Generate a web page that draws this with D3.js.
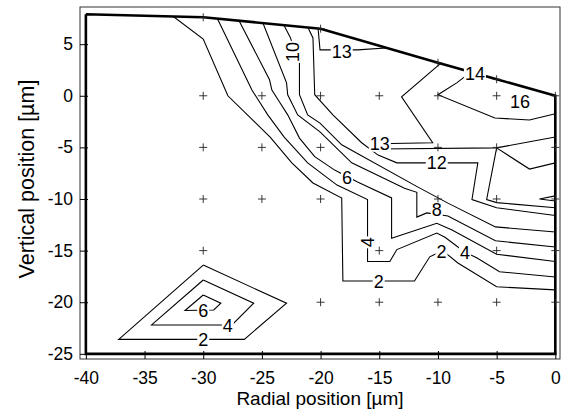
<!DOCTYPE html>
<html>
<head>
<meta charset="utf-8">
<script src="https://cdn.jsdelivr.net/npm/d3@7"></script>
<style>
  body { margin: 0; background: #fff; }
  text { font-family: Arial, "Liberation Sans", sans-serif; }
</style>
</head>
<body>
<div id="chart"></div>
<script>
// axis ticks
var xTicks = [-40, -35, -30, -25, -20, -15, -10, -5, 0];
var yTicks = [-25, -20, -15, -10, -5, 0, 5];

// domain outline (thick line)
var boundary = [[-40, 7.9], [-30, 7.6], [-20, 6.5], [-10, 3.2], [-5, 1.6], [0, 0], [0, -25], [-40, -25], [-40, 7.9]];

// measurement points ("+")
var points = [
  [-30, 7.6], [-20, 6.5], [-10, 3.2], [-5, 1.6],
  [-30, 0], [-25, 0], [-20, 0], [-15, 0], [-10, 0], [-5, 0], [0, 0],
  [-30, -5], [-25, -5], [-20, -5], [-15, -5], [-10, -5], [-5, -5], [0, -5],
  [-30, -10], [-25, -10], [-20, -10], [-10, -10], [-5, -10], [0, -10],
  [-30, -15], [-15, -15], [-5, -15], [0, -15],
  [-20, -20], [-15, -20], [-10, -20], [-5, -20], [0, -20]
];

// contour lines
var line2 = [[-32.8, 7.9], [-30, 5.5], [-27.9, 0], [-24.3, -4.0], [-22.45, -6.5], [-20.65, -8.45], [-18.2, -9.9], [-18.1, -17.95], [-12, -17.95], [-10.7, -15.6], [-9.6, -15.0], [-8.3, -16.2], [-5, -18.5], [0, -18.8]];
var line4 = [[-28.85, 7.6], [-25.85, 0.55], [-25.2, -0.6], [-24.5, -1.85], [-23.1, -4.0], [-21.1, -6.5], [-18.6, -8.65], [-16, -10.05], [-16, -16.05], [-14.1, -16.05], [-13.5, -14.9], [-10.1, -13.3], [-9.4, -13.7], [-7.7, -15.15], [-6.7, -15.7], [-4.75, -17.05], [0, -17.55]];
var line6 = [[-27, 7.4], [-24.35, 1.55], [-24.15, 0.55], [-23.5, -0.6], [-22.8, -1.85], [-21.8, -4.1], [-20.5, -5.9], [-18.8, -7.2], [-16.85, -8.35], [-13.95, -9.9], [-13.95, -13.8], [-10.1, -12.35], [-8.8, -13], [-5, -15.35], [0, -16.05]];
var line8 = [[-25, 7.3], [-22.9, 1.25], [-22.8, 0.1], [-21.95, -1.85], [-20.05, -3.5], [-17.35, -6.5], [-12.85, -8.95], [-11.8, -9.35], [-11.8, -11.75], [-10.95, -11.35], [-9.15, -11.65], [-5.1, -14.05], [0, -14.65]];
var line10 = [[-23.2, 7.0], [-22.6, 5.7], [-21.8, 3.2], [-21.8, 0.1], [-21.1, -1.85], [-20.05, -2.65], [-18.2, -4.75], [-11.7, -8.85], [-9.15, -10.4], [-5.1, -12.7], [0, -13.2]];
var line12 = [[-21.2, 6.9], [-20.65, 5.6], [-20.5, 0.1], [-18.95, -1.85], [-16.5, -4.55], [-15.1, -5.75], [-13.5, -6.5], [-6.6, -6.5], [-7.1, -10.05], [-5, -10.85], [0, -11.6]];
var line13top = [[-20.25, 7], [-20.05, 4.45], [-16.85, 4.45], [-13.5, 4.7]];
var line13a = [[-9.3, 3.6], [-13.1, -0.1], [-10.45, -4.55], [-15.1, -4.65], [-15.1, -5.15], [-5, -5.05], [0, -4.0]];
var line13b = [[-5, -5.05], [-2.2, -7.1], [0, -6.5]];
var line13c = [[-5, -5.05], [-5.85, -10.05], [-5, -10.35], [0, -10.85]];
var wedge = [[0, -9.7], [-1.35, -10.0], [0, -10.2]];
var line14 = [[0, -1.75], [-2.2, -2.35], [-5.15, -2.15], [-10, 0.1], [-8.4, 1.25], [-6.85, 2.6]];
var blob2 = [[-30, -16.4], [-22.9, -20.1], [-26.5, -23.6], [-37.2, -23.6], [-30, -16.4]];
var blob4 = [[-30, -17.85], [-25.7, -20.1], [-27.55, -22.2], [-34.4, -22.2], [-30, -17.85]];
var blob6 = [[-30, -19.3], [-28.5, -20.1], [-29.1, -20.75], [-31.55, -20.8], [-30, -19.3]];

var contourLines = [line2, line4, line6, line8, line10, line12, line13top, line13a, line13b, line13c, wedge, line14, blob2, blob4, blob6];

// contour labels: text, x, y, rotation
var labels = [
  ["10", -22.4, 4.25, -90], ["13", -18.2, 4.25, 0], ["14", -6.85, 2.2, 0], ["16", -3.0, -0.6, 0],
  ["13", -14.95, -4.6, 0], ["12", -10.1, -6.5, 0], ["6", -17.75, -7.9, 0], ["8", -10.1, -11.05, 0],
  ["4", -16, -14.2, -90], ["2", -15.05, -17.95, 0], ["2", -9.7, -15.05, 0], ["4", -7.7, -15.15, 0],
  ["6", -30, -20.85, 0], ["4", -27.9, -22.3, 0], ["2", -30, -23.6, 0]
];

var width = 565, height = 415;
var x = d3.scaleLinear().domain([-40.5, 0.4]).range([80, 560]);
var y = d3.scaleLinear().domain([-25.5, 8.6]).range([359, 7]);

var svg = d3.select("#chart").append("svg")
    .attr("width", width)
    .attr("height", height);

svg.append("rect").attr("width", width).attr("height", height).attr("fill", "#fff");

var line = d3.line().x(d => x(d[0])).y(d => y(d[1]));

svg.append("clipPath").attr("id", "dom")
  .append("path").attr("d", line(boundary));

// contours
var cg = svg.append("g").attr("clip-path", "url(#dom)");
contourLines.forEach(function(c) {
  cg.append("path")
    .attr("d", line(c))
    .attr("fill", "none")
    .attr("stroke", "#000")
    .attr("stroke-width", 1.1);
});

// outline
svg.append("path")
  .attr("d", line(boundary))
  .attr("fill", "none")
  .attr("stroke", "#000")
  .attr("stroke-width", 2.6);

// markers
svg.append("g").selectAll("path")
  .data(points)
  .enter().append("path")
  .attr("d", d => "M" + (x(d[0]) - 4) + "," + y(d[1]) + "h8M" + x(d[0]) + "," + (y(d[1]) - 4) + "v8")
  .attr("stroke", "#222")
  .attr("stroke-width", 0.9);

// labels with white box behind them
labels.forEach(function(l) {
  var lg = svg.append("g")
    .attr("transform", "translate(" + x(l[1]) + "," + y(l[2]) + ") rotate(" + l[3] + ")");
  var bg = lg.append("rect").attr("fill", "#fff");
  var t = lg.append("text")
    .attr("text-anchor", "middle")
    .attr("dy", "0.36em")
    .style("font-size", "18px")
    .text(l[0]);
  var b = t.node().getBBox();
  bg.attr("x", b.x - 1).attr("y", b.y + 2).attr("width", b.width + 2).attr("height", b.height - 4);
});

// axes box
svg.append("rect")
  .attr("x", 80).attr("y", 7)
  .attr("width", 480).attr("height", 352)
  .attr("fill", "none")
  .attr("stroke", "#333")
  .attr("stroke-width", 1);

var xAxis = svg.append("g")
  .attr("transform", "translate(0,359)")
  .call(d3.axisBottom(x).tickValues(xTicks).tickSize(-8).tickPadding(13));
var yAxis = svg.append("g")
  .attr("transform", "translate(80,0)")
  .call(d3.axisLeft(y).tickValues(yTicks).tickSize(-8).tickPadding(7));
[xAxis, yAxis].forEach(function(a) {
  a.select(".domain").remove();
  a.selectAll("line").attr("stroke", "#000");
  a.selectAll("text").style("font-size", "17.5px").attr("fill", "#000")
    .style("font-family", "Arial, 'Liberation Sans', sans-serif")
    .text(d => d < 0 ? "-" + (-d) : d);
});

svg.append("text")
  .attr("x", 320).attr("y", 405)
  .attr("text-anchor", "middle")
  .style("font-size", "19px")
  .text("Radial position [µm]");

svg.append("text")
  .attr("transform", "translate(34,179) rotate(-90)")
  .attr("text-anchor", "middle")
  .style("font-size", "21.5px")
  .text("Vertical position [µm]");
</script>
</body>
</html>
